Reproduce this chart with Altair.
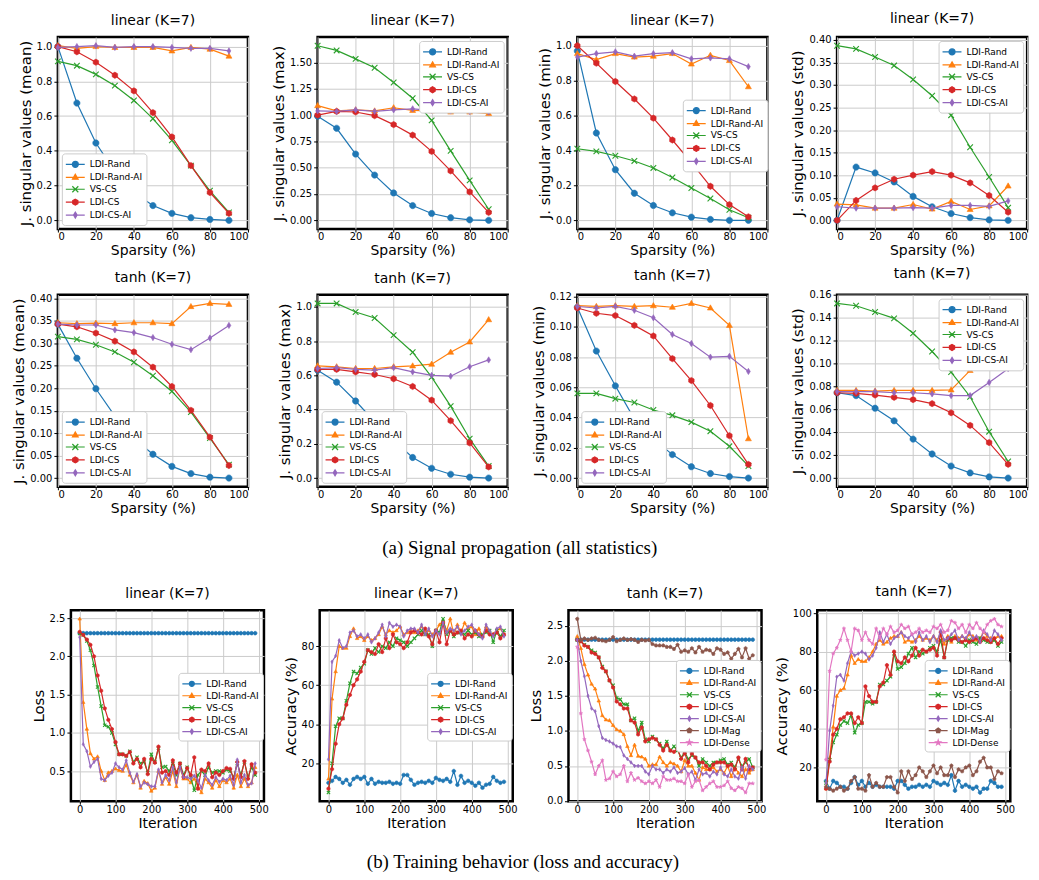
import altair as alt
import pandas as pd

# ---------------- data ----------------
SPARSITY = [0, 10, 20, 30, 40, 50, 60, 70, 80, 90]
ITER = list(range(0, 500, 10))

N5 = ["LDI-Rand", "LDI-Rand-AI", "VS-CS", "LDI-CS", "LDI-CS-AI"]
N7 = N5 + ["LDI-Mag", "LDI-Dense"]

# linear (K=7) singular value statistics
lin_mean = {
    "LDI-Rand": [1.0, 0.675, 0.445, 0.28, 0.16, 0.085, 0.04, 0.015, 0.005, 0.0],
    "LDI-Rand-AI": [1.005, 0.99, 1.0, 0.995, 0.995, 0.995, 0.975, 0.995, 0.985, 0.945],
    "VS-CS": [0.915, 0.89, 0.84, 0.775, 0.69, 0.585, 0.46, 0.315, 0.17, 0.045],
    "LDI-CS": [1.0, 0.97, 0.91, 0.835, 0.745, 0.62, 0.48, 0.315, 0.16, 0.04],
    "LDI-CS-AI": [0.995, 1.0, 1.005, 0.995, 1.0, 1.0, 0.995, 0.99, 0.99, 0.975],
}
lin_max = {
    "LDI-Rand": [0.99, 0.875, 0.63, 0.43, 0.26, 0.14, 0.065, 0.025, 0.005, 0.0],
    "LDI-Rand-AI": [1.09, 1.04, 1.05, 1.04, 1.07, 1.045, 1.04, 1.03, 1.03, 1.015],
    "VS-CS": [1.66, 1.615, 1.535, 1.45, 1.31, 1.16, 0.95, 0.66, 0.38, 0.105],
    "LDI-CS": [1.0, 1.035, 1.03, 0.995, 0.91, 0.81, 0.655, 0.47, 0.27, 0.075],
    "LDI-CS-AI": [1.04, 1.035, 1.05, 1.035, 1.05, 1.06, 1.045, 1.04, 1.035, 1.03],
}
lin_min = {
    "LDI-Rand": [0.97, 0.5, 0.29, 0.155, 0.085, 0.043, 0.018, 0.005, 0.0, 0.0],
    "LDI-Rand-AI": [0.955, 0.92, 0.955, 0.935, 0.94, 0.955, 0.895, 0.945, 0.915, 0.765],
    "VS-CS": [0.41, 0.395, 0.37, 0.34, 0.3, 0.245, 0.185, 0.125, 0.06, 0.015],
    "LDI-CS": [1.0, 0.9, 0.795, 0.695, 0.585, 0.46, 0.33, 0.195, 0.09, 0.02],
    "LDI-CS-AI": [0.935, 0.955, 0.965, 0.94, 0.955, 0.96, 0.925, 0.93, 0.925, 0.88],
}
lin_std = {
    "LDI-Rand": [0.0, 0.118, 0.105, 0.085, 0.053, 0.03, 0.015, 0.006, 0.001, 0.0],
    "LDI-Rand-AI": [0.036, 0.034, 0.027, 0.027, 0.035, 0.025, 0.042, 0.024, 0.032, 0.076],
    "VS-CS": [0.387, 0.38, 0.362, 0.343, 0.312, 0.276, 0.233, 0.162, 0.096, 0.028],
    "LDI-CS": [0.0, 0.044, 0.072, 0.091, 0.1, 0.108, 0.1, 0.083, 0.055, 0.018],
    "LDI-CS-AI": [0.03, 0.027, 0.027, 0.027, 0.028, 0.027, 0.033, 0.033, 0.031, 0.043],
}
# tanh (K=7) singular value statistics
tanh_mean = {
    "LDI-Rand": [0.343, 0.267, 0.199, 0.138, 0.088, 0.053, 0.026, 0.01, 0.002, 0.0],
    "LDI-Rand-AI": [0.346, 0.344, 0.345, 0.344, 0.346, 0.346, 0.344, 0.382, 0.389, 0.387],
    "VS-CS": [0.315, 0.309, 0.297, 0.281, 0.258, 0.228, 0.193, 0.147, 0.089, 0.03],
    "LDI-CS": [0.343, 0.337, 0.323, 0.305, 0.281, 0.247, 0.204, 0.151, 0.091, 0.028],
    "LDI-CS-AI": [0.343, 0.341, 0.341, 0.33, 0.324, 0.313, 0.298, 0.286, 0.312, 0.34],
}
tanh_max = {
    "LDI-Rand": [0.63, 0.56, 0.45, 0.33, 0.22, 0.12, 0.057, 0.022, 0.005, 0.0],
    "LDI-Rand-AI": [0.655, 0.65, 0.64, 0.64, 0.65, 0.655, 0.665, 0.735, 0.795, 0.925],
    "VS-CS": [1.02, 1.02, 0.97, 0.935, 0.835, 0.735, 0.59, 0.42, 0.23, 0.07],
    "LDI-CS": [0.635, 0.635, 0.62, 0.605, 0.58, 0.535, 0.455, 0.335, 0.205, 0.065],
    "LDI-CS-AI": [0.64, 0.645, 0.635, 0.63, 0.645, 0.62, 0.6, 0.595, 0.65, 0.69],
}
tanh_min = {
    "LDI-Rand": [0.113, 0.084, 0.061, 0.039, 0.026, 0.0155, 0.0075, 0.003, 0.001, 0.0],
    "LDI-Rand-AI": [0.114, 0.1135, 0.114, 0.1135, 0.114, 0.113, 0.1155, 0.1125, 0.101, 0.026],
    "VS-CS": [0.056, 0.056, 0.0525, 0.05, 0.045, 0.0415, 0.037, 0.031, 0.021, 0.008],
    "LDI-CS": [0.1125, 0.109, 0.1075, 0.101, 0.094, 0.079, 0.0645, 0.048, 0.028, 0.009],
    "LDI-CS-AI": [0.1135, 0.1125, 0.1135, 0.111, 0.106, 0.095, 0.089, 0.08, 0.0805, 0.0705],
}
tanh_std = {
    "LDI-Rand": [0.0745, 0.072, 0.061, 0.05, 0.034, 0.021, 0.0105, 0.0045, 0.001, 0.0],
    "LDI-Rand-AI": [0.0765, 0.0765, 0.076, 0.0765, 0.0765, 0.0765, 0.077, 0.094, 0.101, 0.108],
    "VS-CS": [0.1525, 0.1505, 0.145, 0.1395, 0.1265, 0.1105, 0.0925, 0.071, 0.0405, 0.0145],
    "LDI-CS": [0.0745, 0.074, 0.0725, 0.0705, 0.0685, 0.065, 0.057, 0.046, 0.031, 0.012],
    "LDI-CS-AI": [0.0755, 0.0755, 0.0755, 0.0745, 0.0745, 0.0735, 0.072, 0.072, 0.0835, 0.0955],
}

# training behaviour, linear (K=7)
lin_loss = {
    "LDI-Rand": [2.303, 2.303, 2.303, 2.303, 2.303, 2.303, 2.303, 2.303, 2.303, 2.303,
                 2.303, 2.303, 2.303, 2.303, 2.303, 2.303, 2.303, 2.303, 2.303, 2.303,
                 2.303, 2.303, 2.303, 2.303, 2.303, 2.303, 2.303, 2.303, 2.303, 2.303,
                 2.303, 2.303, 2.303, 2.303, 2.303, 2.303, 2.303, 2.303, 2.303, 2.303,
                 2.303, 2.303, 2.303, 2.303, 2.303, 2.303, 2.303, 2.303, 2.303, 2.303],
    "LDI-Rand-AI": [2.49, 1.40, 1.05, 0.73, 0.66, 0.69, 0.50, 0.38, 0.48, 0.50,
                    0.53, 0.51, 0.50, 0.58, 0.45, 0.35, 0.45, 0.28, 0.37, 0.34,
                    0.24, 0.28, 0.50, 0.33, 0.42, 0.33, 0.50, 0.30, 0.55, 0.40,
                    0.40, 0.35, 0.40, 0.30, 0.22, 0.40, 0.35, 0.28, 0.38, 0.30,
                    0.38, 0.35, 0.40, 0.28, 0.45, 0.30, 0.40, 0.30, 0.35, 0.55],
    "VS-CS": [2.30, 2.28, 2.20, 2.08, 1.88, 1.60, 1.35, 1.10, 1.08, 1.00,
              0.85, 0.72, 0.72, 0.70, 0.76, 0.62, 0.68, 0.60, 0.62, 0.48,
              0.72, 0.62, 0.80, 0.55, 0.56, 0.50, 0.60, 0.45, 0.60, 0.45,
              0.55, 0.42, 0.25, 0.45, 0.50, 0.45, 0.55, 0.48, 0.50, 0.50,
              0.48, 0.52, 0.50, 0.42, 0.60, 0.45, 0.62, 0.42, 0.55, 0.45],
    "LDI-CS": [2.32, 2.28, 2.22, 2.15, 2.00, 1.75, 1.55, 1.32, 1.17, 1.05,
               0.88, 0.72, 0.72, 0.70, 0.75, 0.60, 0.66, 0.55, 0.66, 0.46,
               0.66, 0.61, 0.82, 0.48, 0.50, 0.45, 0.64, 0.48, 0.60, 0.42,
               0.54, 0.45, 0.68, 0.27, 0.52, 0.50, 0.60, 0.42, 0.48, 0.45,
               0.50, 0.54, 0.53, 0.40, 0.62, 0.42, 0.63, 0.40, 0.59, 0.48],
    "LDI-CS-AI": [2.25, 0.85, 0.76, 0.56, 0.62, 0.66, 0.40, 0.38, 0.44, 0.48,
                  0.60, 0.55, 0.52, 0.64, 0.48, 0.36, 0.46, 0.30, 0.35, 0.33,
                  0.30, 0.30, 0.52, 0.35, 0.45, 0.38, 0.55, 0.35, 0.55, 0.42,
                  0.42, 0.40, 0.44, 0.38, 0.28, 0.45, 0.38, 0.32, 0.42, 0.36,
                  0.40, 0.38, 0.44, 0.32, 0.65, 0.35, 0.45, 0.32, 0.34, 0.60],
}
lin_acc = {
    "LDI-Rand": [10, 11, 13, 12, 10, 11.5, 9, 12, 13, 12,
                 13, 9.5, 12, 9.5, 10.5, 10, 10, 10.5, 9.5, 10,
                 9.5, 14, 14, 11.5, 9, 10, 10.5, 10, 11, 10,
                 12.5, 11.5, 11, 12, 10.5, 16, 9, 13.5, 10, 11,
                 10, 8.5, 10, 7.5, 9, 9.5, 13, 11, 10, 10.5],
    "LDI-Rand-AI": [12, 53, 67, 80, 79, 79, 85, 89, 84, 85,
                    83, 85, 83, 84, 86, 90, 86, 88, 87, 88,
                    90, 86, 87, 88, 87, 88, 90, 87, 88, 86,
                    88, 91, 93, 88, 94, 86, 91, 87, 92, 89,
                    90, 86, 89, 85, 90, 87, 86, 88, 89, 86],
    "VS-CS": [5, 20, 39, 43, 43, 52, 61, 67, 66, 69,
              71, 78, 76, 79, 77, 80, 79, 82, 80, 84,
              83, 82, 80, 82, 84, 86, 88, 86, 86, 80,
              88, 87, 94, 86, 88, 85, 87, 87, 86, 88,
              86, 87, 85, 86, 87, 88, 82, 88, 85, 88],
    "LDI-CS": [7, 17, 30, 40, 43, 50, 55, 60, 63, 67,
               72, 78, 77, 76, 81, 77, 84, 79, 86, 82,
               81, 79, 82, 87, 88, 87, 86, 89, 85, 81,
               88, 82, 92, 81, 88, 86, 87, 88, 84, 86,
               85, 88, 86, 85, 88, 86, 86, 87, 84, 86],
    "LDI-CS-AI": [22, 72, 75, 83, 79, 80, 87, 88, 85, 86,
                  84, 86, 82, 84, 87, 91, 85, 92, 90, 91,
                  90, 85, 88, 89, 89, 87, 91, 86, 89, 85,
                  88, 86, 92, 87, 89, 88, 90, 86, 88, 90,
                  91, 88, 86, 84, 91, 88, 85, 89, 90, 85],
}
# training behaviour, tanh (K=7)
tanh_loss = {
    "LDI-Rand": [2.303, 2.303, 2.303, 2.303, 2.303, 2.303, 2.303, 2.303, 2.303, 2.303,
                 2.303, 2.303, 2.303, 2.303, 2.303, 2.303, 2.303, 2.303, 2.303, 2.303,
                 2.303, 2.303, 2.303, 2.303, 2.303, 2.303, 2.303, 2.303, 2.303, 2.303,
                 2.303, 2.303, 2.303, 2.303, 2.303, 2.303, 2.303, 2.303, 2.303, 2.303,
                 2.303, 2.303, 2.303, 2.303, 2.303, 2.303, 2.303, 2.303, 2.303, 2.303],
    "LDI-Rand-AI": [2.35, 2.18, 1.95, 1.80, 1.67, 1.60, 1.43, 1.22, 1.16, 1.15,
                    1.08, 1.02, 1.00, 0.95, 0.78, 0.65, 0.80, 0.64, 0.63, 0.60,
                    0.50, 0.52, 0.52, 0.63, 0.55, 0.50, 0.55, 0.53, 0.50, 0.42,
                    0.58, 0.50, 0.50, 0.40, 0.30, 0.48, 0.45, 0.45, 0.48, 0.42,
                    0.45, 0.40, 0.50, 0.35, 0.48, 0.40, 0.35, 0.45, 0.40, 0.45],
    "VS-CS": [2.30, 2.28, 2.23, 2.20, 2.15, 2.12, 2.05, 1.92, 1.85, 1.72,
              1.65, 1.47, 1.45, 1.38, 1.38, 1.15, 1.18, 1.00, 1.12, 0.88,
              0.85, 0.92, 0.88, 0.82, 0.75, 0.85, 0.72, 0.78, 0.72, 0.62,
              0.70, 0.60, 0.65, 0.62, 0.50, 0.60, 0.55, 0.50, 0.55, 0.55,
              0.58, 0.60, 0.52, 0.55, 0.48, 0.60, 0.50, 0.55, 0.60, 0.48],
    "LDI-CS": [2.30, 2.28, 2.22, 2.20, 2.12, 2.10, 2.05, 1.90, 1.85, 1.72,
               1.62, 1.42, 1.38, 1.32, 1.32, 1.15, 1.12, 0.95, 1.05, 0.85,
               0.88, 0.90, 0.88, 0.80, 0.72, 0.80, 0.72, 0.70, 0.75, 0.60,
               0.68, 0.55, 0.68, 0.62, 0.55, 0.55, 0.50, 0.45, 0.52, 0.55,
               0.55, 0.55, 0.50, 0.52, 0.45, 0.62, 0.45, 0.60, 0.45, 0.48],
    "LDI-CS-AI": [2.30, 2.00, 1.78, 1.50, 1.32, 1.28, 1.07, 0.90, 0.87, 0.85,
                  0.82, 0.78, 0.77, 0.65, 0.60, 0.55, 0.50, 0.50, 0.50, 0.42,
                  0.38, 0.50, 0.45, 0.45, 0.40, 0.45, 0.42, 0.48, 0.40, 0.42,
                  0.47, 0.38, 0.42, 0.30, 0.45, 0.38, 0.40, 0.35, 0.42, 0.38,
                  0.48, 0.38, 0.35, 0.45, 0.35, 0.32, 0.48, 0.32, 0.50, 0.45],
    "LDI-Mag": [2.60, 2.30, 2.32, 2.30, 2.32, 2.33, 2.30, 2.29, 2.28, 2.30,
                2.34, 2.28, 2.30, 2.32, 2.30, 2.31, 2.30, 2.27, 2.30, 2.29,
                2.30, 2.24, 2.22, 2.22, 2.22, 2.20, 2.20, 2.17, 2.23, 2.13,
                2.15, 2.13, 2.18, 2.12, 2.20, 2.13, 2.16, 2.15, 2.10, 2.18,
                2.16, 2.10, 2.12, 2.03, 2.10, 2.17, 2.05, 2.18, 2.03, 2.08],
    "LDI-Dense": [2.20, 1.25, 0.88, 0.72, 0.56, 0.38, 0.50, 0.58, 0.30, 0.32,
                  0.42, 0.35, 0.38, 0.50, 0.28, 0.40, 0.30, 0.33, 0.28, 0.25,
                  0.28, 0.25, 0.30, 0.20, 0.35, 0.30, 0.30, 0.32, 0.28, 0.28,
                  0.25, 0.38, 0.20, 0.28, 0.30, 0.15, 0.20, 0.25, 0.28, 0.20,
                  0.20, 0.22, 0.28, 0.18, 0.15, 0.20, 0.18, 0.12, 0.25, 0.25],
}
tanh_acc = {
    "LDI-Rand": [13, 9, 13, 12, 10, 10, 9, 12, 15, 11,
                 13, 10, 12, 10, 11, 10, 10, 10, 10, 9,
                 13, 13, 11, 9, 10, 10, 11, 10, 11, 10,
                 13, 12, 11, 12, 11, 16, 8, 13, 10, 11,
                 10, 9, 10, 7, 9, 9, 13, 12, 10, 10],
    "LDI-Rand-AI": [9, 25, 41, 57, 60, 61, 68, 78, 74, 76,
                    75, 75, 77, 80, 84, 86, 84, 85, 87, 88,
                    88, 90, 85, 86, 85, 86, 88, 86, 87, 86,
                    88, 86, 89, 84, 88, 85, 88, 87, 88, 86,
                    89, 88, 86, 87, 90, 88, 87, 86, 88, 88],
    "VS-CS": [12, 24, 33, 37, 42, 44, 43, 47, 38, 42,
              43, 54, 54, 53, 54, 63, 63, 65, 67, 79,
              71, 72, 74, 79, 82, 77, 80, 79, 80, 82,
              83, 80, 86, 77, 86, 87, 87, 85, 85, 83,
              86, 85, 84, 87, 86, 85, 85, 86, 83, 85],
    "LDI-CS": [9, 23, 37, 40, 45, 46, 48, 48, 43, 46,
               43, 62, 57, 54, 54, 62, 64, 73, 68, 80,
               75, 74, 77, 75, 78, 82, 78, 81, 80, 81,
               82, 78, 90, 77, 87, 86, 87, 86, 85, 86,
               85, 86, 87, 85, 87, 86, 85, 87, 84, 87],
    "LDI-CS-AI": [12, 39, 52, 67, 68, 65, 74, 80, 78, 79,
                  80, 79, 76, 78, 82, 90, 85, 89, 84, 87,
                  88, 90, 88, 87, 89, 85, 90, 86, 88, 85,
                  88, 85, 91, 86, 87, 89, 91, 86, 88, 87,
                  90, 87, 88, 85, 91, 89, 86, 91, 89, 86],
    "LDI-Mag": [10, 9, 8, 9, 10, 8, 9, 13, 15, 9,
                9, 8, 16, 10, 12, 10, 10, 15, 15, 10,
                7, 18, 13, 18, 14, 16, 20, 18, 15, 18,
                21, 17, 20, 16, 16, 21, 15, 19, 18, 20,
                21, 16, 18, 23, 25, 20, 20, 14, 18, 17],
    "LDI-Dense": [24, 70, 79, 82, 86, 92, 86, 80, 92, 91,
                  86, 90, 86, 84, 92, 87, 92, 89, 93, 90,
                  91, 94, 92, 93, 89, 90, 92, 90, 91, 90,
                  93, 92, 94, 90, 91, 96, 95, 92, 94, 90,
                  94, 92, 95, 92, 90, 94, 96, 97, 94, 93],
}

# ---------------- style ----------------
COLORS = {"LDI-Rand": "#1f77b4", "LDI-Rand-AI": "#ff7f0e", "VS-CS": "#2ca02c",
          "LDI-CS": "#d62728", "LDI-CS-AI": "#9467bd", "LDI-Mag": "#8c564b",
          "LDI-Dense": "#e377c2"}
MARK = {"LDI-Rand": "o", "LDI-Rand-AI": "^", "VS-CS": "x", "LDI-CS": "h",
        "LDI-CS-AI": "d", "LDI-Mag": "p", "LDI-Dense": "*"}
POLY = {
    "^": [(0, -1), (0.95, 0.65), (-0.95, 0.65)],
    "h": [(0, -1), (0.866, -0.5), (0.866, 0.5), (0, 1), (-0.866, 0.5), (-0.866, -0.5)],
    "d": [(0, -1), (0.6, 0), (0, 1), (-0.6, 0)],
    "p": [(0, -1), (0.951, -0.309), (0.588, 0.809), (-0.588, 0.809), (-0.951, -0.309)],
    "*": [(0, -1), (0.223, -0.307), (0.951, -0.309), (0.361, 0.117), (0.588, 0.809),
          (0, 0.38), (-0.588, 0.809), (-0.361, 0.117), (-0.951, -0.309), (-0.223, -0.307)],
}

# legend symbol geometry (symbolSize 144 -> 6 px per path unit, symbol centre at 7 px)
LEG_SIZE = 144
LINE_L, LINE_R, MARK_C = -1.17, 2.0, 0.42


def marker_path(m, s, dx=0.0):
    if m == "o":
        return (f"M{dx + s:.3f},0A{s},{s} 0 1,1 {dx - s:.3f},0"
                f"A{s},{s} 0 1,1 {dx + s:.3f},0Z")
    if m == "x":
        return (f"M{dx - s:.3f},{-s}L{dx + s:.3f},{s}"
                f"M{dx - s:.3f},{s}L{dx + s:.3f},{-s}")
    return "M" + "L".join(f"{dx + x * s:.3f},{y * s:.3f}" for x, y in POLY[m]) + "Z"


def panel(title, xs, data, names, ytitle, xtitle, yticks, yfmt, xdom, xticks,
          leg, w, h, msize, lscale):
    allv = [v for n in names for v in data[n]]
    lo, hi = min(allv), max(allv)
    pad = 0.05 * (hi - lo)
    ydom = [lo - pad, hi + pad]
    xenc = alt.X("x:Q", scale=alt.Scale(domain=xdom, nice=False, zero=False),
                 axis=alt.Axis(values=xticks, format="d", title=xtitle))
    yenc = alt.Y("y:Q", scale=alt.Scale(domain=ydom, nice=False, zero=False),
                 axis=alt.Axis(values=yticks, format=yfmt, title=ytitle))
    layers = []
    for n in names:
        df = pd.DataFrame({"x": xs, "y": data[n]})
        col = COLORS[n]
        m = MARK[n]
        layers.append(alt.Chart(df).mark_line(color=col, strokeWidth=1.2)
                      .encode(x=xenc, y=yenc))
        if m == "x":
            pt = alt.Chart(df).mark_point(shape=marker_path(m, 1), size=msize * 0.8,
                                          filled=False, stroke=col, strokeWidth=1.1,
                                          opacity=1)
        else:
            pt = alt.Chart(df).mark_point(shape=marker_path(m, 1), size=msize,
                                          filled=True, fill=col, stroke=col,
                                          strokeWidth=0.6, opacity=1)
        layers.append(pt.encode(x=xenc, y=yenc))
    cols = [COLORS[n] for n in names]
    lpaths = [f"M{LINE_L},0L{LINE_R},0" + marker_path(MARK[n], lscale, MARK_C)
              for n in names]
    legend = alt.Legend(title=None, **leg)
    ldf = pd.DataFrame({"series": names, "x": [xdom[0]] * len(names),
                        "y": [ydom[0]] * len(names)})
    lay = (alt.Chart(ldf).transform_filter("datum.x > 1e9")
           .mark_point(filled=True, opacity=1, strokeWidth=1.2)
           .encode(x=xenc, y=yenc,
                   fill=alt.Fill("series:N", scale=alt.Scale(domain=names, range=cols), legend=legend),
                   stroke=alt.Stroke("series:N", scale=alt.Scale(domain=names, range=cols), legend=legend),
                   shape=alt.Shape("series:N", scale=alt.Scale(domain=names, range=lpaths), legend=legend)))
    layers.append(lay)
    return alt.layer(*layers).properties(width=w, height=h, title=title)


def indep(c):
    return c.resolve_scale(fill="independent", stroke="independent", shape="independent")


TR = {"orient": "top-right", "offset": 4}
BL = {"orient": "bottom-left", "offset": 4}


def at(x, y):
    return {"orient": "none", "legendX": x, "legendY": y}


SPX = [0, 20, 40, 60, 80, 100]
ITX = [0, 100, 200, 300, 400, 500]
W1, H1 = 191, 193
W3, H3 = 194, 192
YT = "J. singular values ({})"

p1 = panel("linear (K=7)", SPARSITY, lin_mean, N5, YT.format("mean"), "Sparsity (%)",
           [0, 0.2, 0.4, 0.6, 0.8, 1.0], ".1f", [0, 100], SPX, BL, W1, H1, 40, 0.5)
p2 = panel("linear (K=7)", SPARSITY, lin_max, N5, YT.format("max"), "Sparsity (%)",
           [0, 0.25, 0.5, 0.75, 1.0, 1.25, 1.5], ".2f", [0, 100], SPX, TR, W1, H1, 40, 0.5)
p3 = panel("linear (K=7)", SPARSITY, lin_min, N5, YT.format("min"), "Sparsity (%)",
           [0, 0.2, 0.4, 0.6, 0.8, 1.0], ".1f", [0, 100], SPX, at(106, 63), W1, H1, 40, 0.5)
p4 = panel("linear (K=7)", SPARSITY, lin_std, N5, YT.format("std"), "Sparsity (%)",
           [0, 0.05, 0.1, 0.15, 0.2, 0.25, 0.3, 0.35, 0.4], ".2f", [0, 100], SPX, TR, W1, H1, 40, 0.5)
p5 = panel("tanh (K=7)", SPARSITY, tanh_mean, N5, YT.format("mean"), "Sparsity (%)",
           [0, 0.05, 0.1, 0.15, 0.2, 0.25, 0.3, 0.35, 0.4], ".2f", [0, 100], SPX, BL, W1, H1, 40, 0.5)
p6 = panel("tanh (K=7)", SPARSITY, tanh_max, N5, YT.format("max"), "Sparsity (%)",
           [0, 0.2, 0.4, 0.6, 0.8, 1.0], ".1f", [0, 100], SPX, BL, W1, H1, 40, 0.5)
p7 = panel("tanh (K=7)", SPARSITY, tanh_min, N5, YT.format("min"), "Sparsity (%)",
           [0, 0.02, 0.04, 0.06, 0.08, 0.1, 0.12], ".2f", [0, 100], SPX, BL, W1, H1, 40, 0.5)
p8 = panel("tanh (K=7)", SPARSITY, tanh_std, N5, YT.format("std"), "Sparsity (%)",
           [0, 0.02, 0.04, 0.06, 0.08, 0.1, 0.12, 0.14, 0.16], ".2f", [0, 100], SPX, TR, W1, H1, 40, 0.5)
p9 = panel("linear (K=7)", ITER, lin_loss, N5, "Loss", "Iteration",
           [0.5, 1.0, 1.5, 2.0, 2.5], ".1f", [-24.5, 514.5], ITX, at(108, 63), W3, H3, 14, 0.42)
p10 = panel("linear (K=7)", ITER, lin_acc, N5, "Accuracy (%)", "Iteration",
            [20, 40, 60, 80], "d", [-24.5, 514.5], ITX, at(108, 63), W3, H3, 14, 0.42)
p11 = panel("tanh (K=7)", ITER, tanh_loss, N7, "Loss", "Iteration",
            [0.0, 0.5, 1.0, 1.5, 2.0, 2.5], ".1f", [-24.5, 514.5], ITX, at(108, 50), W3, H3, 14, 0.42)
p12 = panel("tanh (K=7)", ITER, tanh_acc, N7, "Accuracy (%)", "Iteration",
            [20, 40, 60, 80, 100], "d", [-24.5, 514.5], ITX, at(108, 50), W3, H3, 14, 0.42)

CAP = dict(orient="bottom", anchor="middle", font="Liberation Serif", fontSize=19,
           fontWeight="normal", color="black", offset=22)

row1 = indep(alt.hconcat(p1, p2, p3, p4, spacing=70, bounds="flush"))
row2 = indep(alt.hconcat(p5, p6, p7, p8, spacing=70, bounds="flush")).properties(
    title=alt.TitleParams("(a) Signal propagation (all statistics)", **CAP))
row3 = indep(alt.hconcat(p9, p10, p11, p12, spacing=56, bounds="flush")).properties(
    title=alt.TitleParams("(b) Training behavior (loss and accuracy)", **CAP))
top = indep(alt.vconcat(row1, row2, spacing=5))
chart = indep(alt.vconcat(top, row3, spacing=25, center=True)).properties(
    padding={"left": 2, "top": 0, "right": 2, "bottom": 0}
).configure(font="DejaVu Sans").configure_view(
    stroke="black", strokeWidth=2.5
).configure_axis(
    domain=False, grid=True, gridColor="#cbcbcb", gridWidth=1,
    tickColor="black", tickSize=4, tickWidth=1, labelPadding=2,
    labelFontSize=10, labelColor="black", labelFont="DejaVu Sans",
    titleFontSize=14, titleFontWeight="normal", titleColor="black",
    titleFont="DejaVu Sans", titlePadding=3
).configure_axisY(
    titleFontSize=15
).configure_axisX(
    tickSize=3, labelPadding=0, titlePadding=2
).configure_title(
    fontSize=14, fontWeight="normal", font="DejaVu Sans", color="black", offset=9
).configure_legend(
    labelFontSize=9, labelFont="DejaVu Sans", labelColor="black",
    symbolSize=LEG_SIZE, symbolStrokeWidth=1.2, padding=4, rowPadding=0,
    fillColor="white", strokeColor="#cccccc", cornerRadius=3, labelOffset=10
)

chart.save("out.html", embed_options={"renderer": "svg", "actions": False})
